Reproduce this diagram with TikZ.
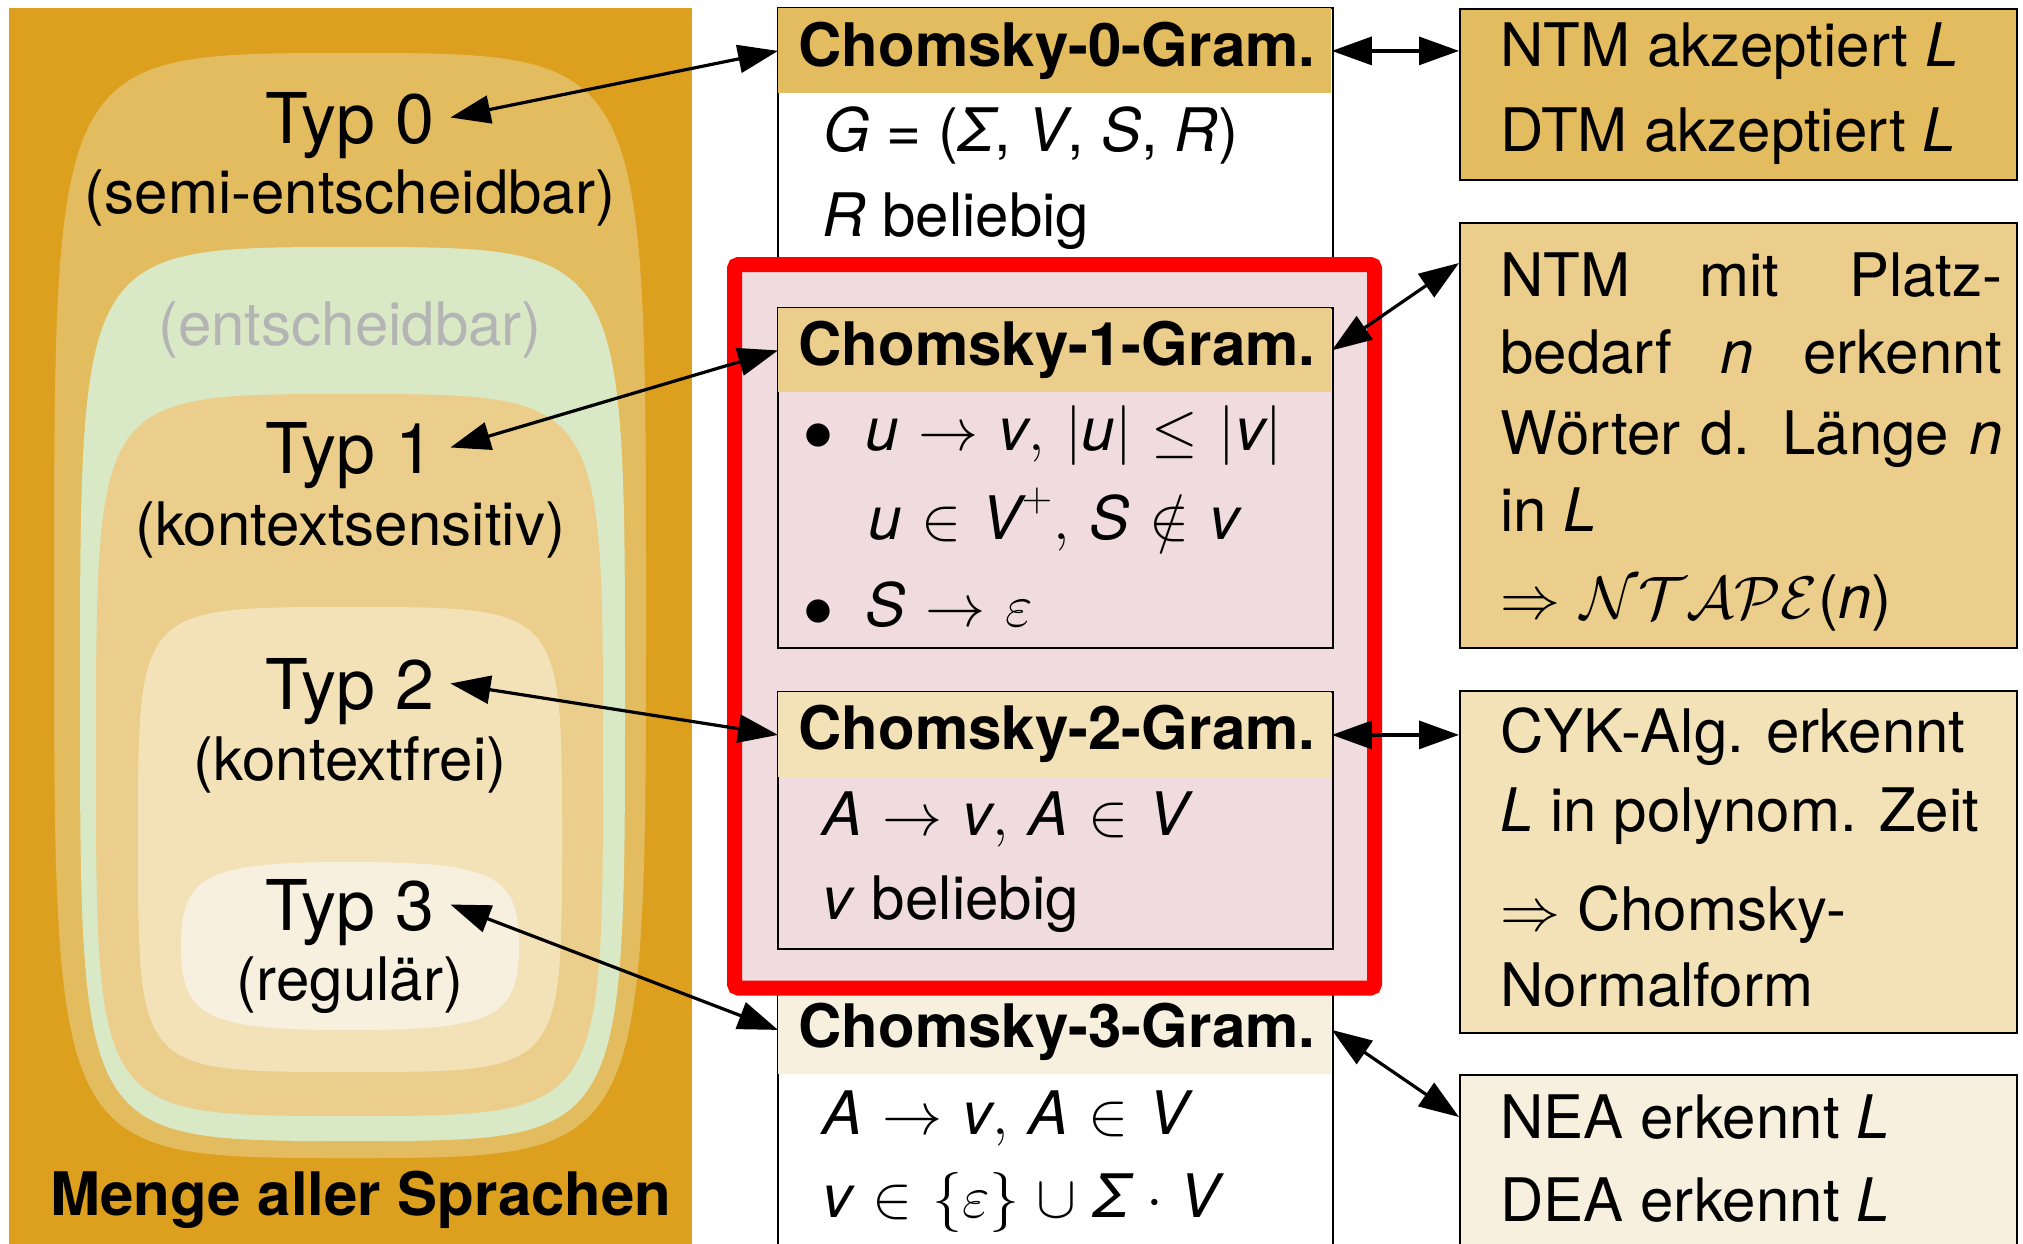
\RequirePackage{fix-cm}
\documentclass[tikz,border=0pt]{standalone}
\usepackage{fontspec}
\setmainfont{TeX Gyre Heros}
\usetikzlibrary{arrows.meta}
\definecolor{corange}{HTML}{DCA01E}
\definecolor{czero}{HTML}{E4BC60}
\definecolor{cgreen}{HTML}{D9E9C6}
\definecolor{cone}{HTML}{ECCE8C}
\definecolor{ctwo}{HTML}{F3E1B8}
\definecolor{cthree}{HTML}{F8F0DE}
\definecolor{cpink}{HTML}{F0DCDE}
\definecolor{cgrey}{HTML}{B4B4B4}
\thickmuskip=6mu plus 2mu
\medmuskip=5mu plus 2mu minus 2mu
\newcommand\blob[6]{%
 \pgfmathsetmacro\bcx{(#1+#3)/2}\pgfmathsetmacro\bcy{(#2+#4)/2}%
 \pgfmathsetmacro\bka{#6*(#3-#1)/2}\pgfmathsetmacro\bkb{#6*(#4-#2)/2}%
 \fill[#5] (\bcx,#2) .. controls ({\bcx+\bka},#2) and (#3,{\bcy-\bkb}) .. (#3,\bcy)
   .. controls (#3,{\bcy+\bkb}) and ({\bcx+\bka},#4) .. (\bcx,#4)
   .. controls ({\bcx-\bka},#4) and (#1,{\bcy+\bkb}) .. (#1,\bcy)
   .. controls (#1,{\bcy-\bkb}) and ({\bcx-\bka},#2) .. (\bcx,#2) -- cycle;}
\begin{document}
\begin{tikzpicture}[x=0.5pt,y=-0.5pt,
  txt/.style={anchor=base west,inner sep=0pt,font=\fontsize{30}{36}\selectfont},
  sub/.style={anchor=base,inner sep=0pt,font=\fontsize{30}{36}\selectfont},
  typ/.style={anchor=base,inner ysep=0pt,inner xsep=8pt,text depth=0pt,font=\fontsize{35}{42}\selectfont},
  boxc/.style={draw,line width=1.2pt,anchor=north west,inner sep=0pt,minimum width=278.5pt},
  colbox/.style={draw,line width=1pt,anchor=north west,inner sep=0pt,minimum width=277.5pt},
  hdr/.style={anchor=north west,inner sep=0pt,minimum width=276.5pt},
  arr/.style={{Triangle[length=20pt,width=14pt]}-{Triangle[length=20pt,width=14pt]},line width=1.6pt}]
\useasboundingbox (0,0) rectangle (2023,1243);
\clip (0,0) rectangle (2023,1243);
% left nested language classes
\fill[corange] (9,7.5) rectangle (692,1260);
\blob{54}{53}{646}{1158}{czero}{1}
\blob{80}{247}{625}{1141}{cgreen}{1}
\blob{96}{394}{603}{1116}{cone}{1}
\blob{138}{607}{562}{1072}{ctwo}{1}
\blob{181}{862}{519}{1030}{cthree}{0.85}
\node[typ] (T0) at (350,143) {Typ 0};
\node[sub] (S0) at (350,213) {(semi-entscheidbar)};
\node[sub,text=cgrey] (E) at (350,345) {(entscheidbar)};
\node[typ] (T1) at (350,473) {Typ 1};
\node[sub] (S1) at (350,545) {(kontextsensitiv)};
\node[typ] (T2) at (350,709) {Typ 2};
\node[sub] (S2) at (350,780) {(kontextfrei)};
\node[typ] (T3) at (350,930) {Typ 3};
\node[sub] (S3) at (350,1000) {(regulär)};
\node[txt] (M) at (50,1215) {\textbf{Menge aller Sprachen}};
% middle column
\node[colbox,fill=white,minimum height=650pt] (big) at (777,7) {};
\node[hdr,fill=czero,minimum height=42.5pt] (h0) at (778,8) {};
\node[hdr,fill=cthree,minimum height=44.5pt] (h3) at (778,985) {};
\draw[red,line width=7.5pt,fill=cpink,rounded corners=2pt] (734.5,264.5) rectangle (1374.5,988);
\node[colbox,fill=cpink,minimum height=170pt] (b1) at (777,307) {};
\node[hdr,fill=cone,minimum height=42pt] (h1) at (778,308) {};
\node[colbox,fill=cpink,minimum height=128.5pt] (b2) at (777,691) {};
\node[hdr,fill=ctwo,minimum height=42.5pt] (h2) at (778,692) {};
\node[txt] (h0t) at (798,66) {\textbf{Chomsky-0-Gram.}};
\node[txt] (g0a) at (823,151) {\textit{G} = (\textit{Σ}, \textit{V}, \textit{S}, \textit{R})};
\node[txt] (g0b) at (822,236) {\textit{R} beliebig};
\node[txt] (h1t) at (798,365) {\textbf{Chomsky-1-Gram.}};
\node[txt] (g1a) at (803,450) {$\bullet$\hspace{16pt}$\textit{u}\rightarrow\textit{v},\,|\textit{u}|\leq|\textit{v}|$};
\node[txt] (g1b) at (868,539) {$\textit{u}\in\textit{V}^{+},\,\textit{S}\notin\textit{v}$};
\node[txt] (g1c) at (803,626) {$\bullet$\hspace{16pt}$\textit{S}\rightarrow\varepsilon$};
\node[txt] (h2t) at (798,749) {\textbf{Chomsky-2-Gram.}};
\node[txt] (g2a) at (822,835) {$\textit{A}\rightarrow\textit{v},\,\textit{A}\in\textit{V}$};
\node[txt] (g2b) at (822,919) {\textit{v} beliebig};
\node[txt] (h3t) at (798,1047) {\textbf{Chomsky-3-Gram.}};
\node[txt] (g3a) at (822,1134) {$\textit{A}\rightarrow\textit{v},\,\textit{A}\in\textit{V}$};
\node[txt] (g3b) at (822,1217) {$\textit{v}\in\{\varepsilon\}\cup\textit{Σ}\cdot\textit{V}$};
% right column
\node[boxc,fill=czero,minimum height=85.75pt] (r0) at (1459,7.5) {};
\node[boxc,fill=cone,minimum height=212.5pt] (r1) at (1459,222) {};
\node[boxc,fill=ctwo,minimum height=171pt] (r2) at (1459,690) {};
\node[boxc,fill=cthree,minimum height=120pt] (r3) at (1459,1074) {};
\node[txt] (r0a) at (1500,66) {NTM akzeptiert \textit{L}};
\node[txt] (r0b) at (1500,151) {DTM akzeptiert \textit{L}};
\node[txt] (r1a) at (1500,296) {\makebox[251pt][s]{NTM mit Platz-}};
\node[txt] (r1b) at (1500,373) {\makebox[251pt][s]{bedarf \textit{n} erkennt}};
\node[txt] (r1c) at (1500,454) {\makebox[251pt][s]{Wörter d. Länge \textit{n}}};
\node[txt] (r1d) at (1500,531) {in \textit{L}};
\node[txt] (r1e) at (1500,618) {$\Rightarrow\mathcal{NTAPE}$(\textit{n})};
\node[txt] (r2a) at (1500,752) {CYK-Alg. erkennt};
\node[txt] (r2b) at (1500,831) {\textit{L} in polynom. Zeit};
\node[txt] (r2c) at (1500,930) {$\Rightarrow$ Chomsky-};
\node[txt] (r2d) at (1500,1006) {Normalform};
\node[txt] (r3a) at (1500,1138) {NEA erkennt \textit{L}};
\node[txt] (r3b) at (1500,1221) {DEA erkennt \textit{L}};
% connectors
\draw[arr] (T0.east) -- (h0.west);
\draw[arr] (T1.east) -- (h1.west);
\draw[arr] (T2.east) -- (h2.west);
\draw[arr] (T3.east) -- (h3.west);
\draw[arr] (h0.east) -- (h0.east -| r0.west);
\draw[arr] (h1.east) -- ([yshift=-20.5pt]r1.north west);
\draw[arr] (h2.east) -- (h2.east -| r2.west);
\draw[arr] (h3.east) -- ([yshift=-21.5pt]r3.north west);
\end{tikzpicture}
\end{document}
